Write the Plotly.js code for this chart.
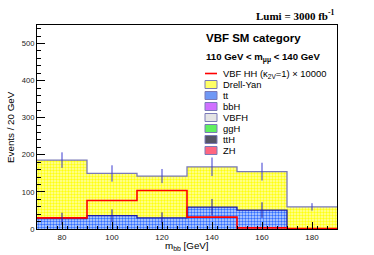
<!DOCTYPE html>
<html>
<head>
<meta charset="utf-8">
<script src="https://cdn.plot.ly/plotly-3.0.1.min.js"></script>
<style>html,body{margin:0;padding:0;background:#fff;}#plot{width:374px;height:255px;}</style>
</head>
<body>
<div id="plot"></div>
<script>
// ---- data ----
var binCenters = [80, 100, 120, 140, 160, 180];
var binEdges   = [70, 90, 110, 130, 150, 170, 190];
var ttbar      = [28, 36, 30, 59, 51, 0];
var zh         = [0.1, 0.1, 0.1, 0.1, 0.1, 0.1];
var tth        = [0.1, 0.1, 0.1, 0.1, 0.1, 0.1];
var ggh        = [0.3, 0.3, 0.4, 0.3, 0.3, 0.2];
var vbfh       = [0.1, 0.1, 0.1, 0.1, 0.1, 0.1];
var bbh        = [0.1, 0.1, 0.1, 0.1, 0.1, 0.1];
var drellYan   = [157, 113, 112, 108, 103, 59];
var errTotal   = [21, 22, 19, 25, 24, 10];
var errTT      = [16, 17, 15, 22, 21, 0];
var vbfHH      = [30, 77, 104, 32, 3, 1];   // x 10000
var yTicks     = [0, 100, 200, 300, 400, 500];
var xTicks     = [80, 100, 120, 140, 160, 180];
var legendLabels = ['VBF HH (κ<sub>2V</sub>=1) × 10000', 'Drell-Yan', 'tt', 'bbH', 'VBFH', 'ggH', 'ttH', 'ZH'];

// ---- derived ----
var total = binCenters.map(function(_, i){
  return ttbar[i] + zh[i] + tth[i] + ggh[i] + vbfh[i] + bbh[i] + drellYan[i];
});
function stepY(arr){ return arr.concat([arr[arr.length-1]]); }

var FONT = 'Liberation Sans, Arial, Helvetica, sans-serif';
var outline = '#7a7ab8';

function patBar(name, y, fg, bg){
  return {type:'bar', name:name, x:binCenters, y:y, width:20, showlegend:false, hoverinfo:'skip',
    marker:{color:fg, line:{width:0}, pattern:{shape:'.', bgcolor:bg, size:3, solidity:0.5}}};
}

var traces = [
  patBar('tt', ttbar, '#2f6cff', '#cadcff'),
  patBar('ZH', zh, '#ff3355', '#ffc8d0'),
  patBar('ttH', tth, '#222233', '#9999aa'),
  patBar('ggH', ggh, '#22ee22', '#c8ffc8'),
  patBar('VBFH', vbfh, '#cccccc', '#f0f0f0'),
  patBar('bbH', bbh, '#bb33ff', '#eeccff'),
  patBar('Drell-Yan', drellYan, '#ffff10', '#ffffa8'),
  // stack outline
  {type:'scatter', mode:'lines', x:binEdges, y:stepY(total), line:{shape:'hv', color:outline, width:1.3}, showlegend:false, hoverinfo:'skip'},
  // ttbar outline
  {type:'scatter', mode:'lines', x:binEdges, y:stepY(ttbar), line:{shape:'hv', color:'#1a1aa8', width:1.3}, showlegend:false, hoverinfo:'skip'},
  // signal
  {type:'scatter', mode:'lines', x:binEdges, y:stepY(vbfHH), line:{shape:'hv', color:'#ff0000', width:1.6}, showlegend:false, hoverinfo:'skip'},
  // error bars
  {type:'scatter', mode:'markers', x:binCenters, y:total, marker:{size:1, color:'rgba(0,0,0,0)'},
    error_y:{type:'data', array:errTotal, visible:true, color:'#3a3ad0', thickness:1, width:0}, showlegend:false, hoverinfo:'skip'},
  {type:'scatter', mode:'markers', x:binCenters, y:ttbar, marker:{size:1, color:'rgba(0,0,0,0)'},
    error_y:{type:'data', array:errTT, visible:true, color:'#1a1aa8', thickness:1, width:0}, showlegend:false, hoverinfo:'skip'}
];

// pixel helpers (plot area: x 37..337, y 25..229)
var L = 37, R = 337, T = 25, B = 229;
function px(x){ return (x - L) / (R - L); }
function py(y){ return (B - y) / (B - T); }

var annotations = [
  {text:'<b>Lumi = 3000 fb<sup>-1</sup></b>', xref:'paper', yref:'paper', x:px(337), y:py(15), xanchor:'right', yanchor:'middle', showarrow:false, font:{family:'Liberation Serif, Times New Roman, serif', size:11, color:'#000'}},
  {text:'<b>VBF SM category</b>', xref:'paper', yref:'paper', x:px(204), y:py(38), xanchor:'left', yanchor:'middle', showarrow:false, font:{family:FONT, size:11.5, color:'#000'}},
  {text:'<b>110 GeV < m<sub>μμ</sub> < 140 GeV</b>', xref:'paper', yref:'paper', x:px(204), y:py(57), xanchor:'left', yanchor:'middle', showarrow:false, font:{family:FONT, size:9.6, color:'#000'}},
  {text:'Events / 20 GeV', xref:'paper', yref:'paper', x:px(10), y:py(127), xanchor:'center', yanchor:'middle', textangle:-90, showarrow:false, font:{family:FONT, size:9.8, color:'#000'}},
  {text:'m<sub>bb</sub> [GeV]', xref:'paper', yref:'paper', x:px(187), y:py(246), xanchor:'center', yanchor:'middle', showarrow:false, font:{family:FONT, size:9.8, color:'#000'}}
];
var shapes = [];
var boxFill = ['#ffff66', '#6f98f5', '#d070ff', '#e4e4e4', '#60f060', '#555566', '#ff6680'];
var y0 = 73.5, step = 11;
for (var k = 0; k < legendLabels.length; k++){
  var yc = y0 + step * k;
  annotations.push({text:legendLabels[k], xref:'paper', yref:'paper', x:px(221), y:py(yc), xanchor:'left', yanchor:'middle', showarrow:false, font:{family:FONT, size:9.4, color:'#000'}});
  if (k === 0){
    shapes.push({type:'line', xref:'paper', yref:'paper', x0:px(205), x1:px(217), y0:py(yc), y1:py(yc), line:{color:'#ff0000', width:1.6}});
  } else {
    shapes.push({type:'rect', xref:'paper', yref:'paper', x0:px(205), x1:px(217), y0:py(yc-4), y1:py(yc+4), fillcolor:boxFill[k-1], line:{color:outline, width:1}});
  }
}

var layout = {
  width:374, height:255,
  margin:{l:L, r:374-R, t:T, b:255-B, pad:0},
  paper_bgcolor:'#fff', plot_bgcolor:'#fff',
  barmode:'stack', bargap:0,
  showlegend:false,
  font:{family:FONT, size:8, color:'#000'},
  xaxis:{range:[70,190], tickvals:xTicks, ticks:'inside', ticklen:7, tickcolor:'#000', tickwidth:1,
    minor:{dtick:4, tick0:70, ticks:'inside', ticklen:3, tickcolor:'#000', showgrid:false},
    showline:true, linecolor:'#000', linewidth:1, mirror:true, showgrid:false, zeroline:false,
    tickfont:{family:FONT, size:8, color:'#222'}, fixedrange:true},
  yaxis:{range:[0,550], tickvals:yTicks, ticks:'inside', ticklen:8, tickcolor:'#000', tickwidth:1,
    minor:{dtick:20, tick0:0, ticks:'inside', ticklen:4, tickcolor:'#000', showgrid:false},
    showline:true, linecolor:'#000', linewidth:1, mirror:true, showgrid:false, zeroline:false,
    tickfont:{family:FONT, size:7.6, color:'#222'}, fixedrange:true},
  annotations:annotations,
  shapes:shapes
};

Plotly.newPlot('plot', traces, layout, {staticPlot:true, displayModeBar:false});
</script>
</body>
</html>
